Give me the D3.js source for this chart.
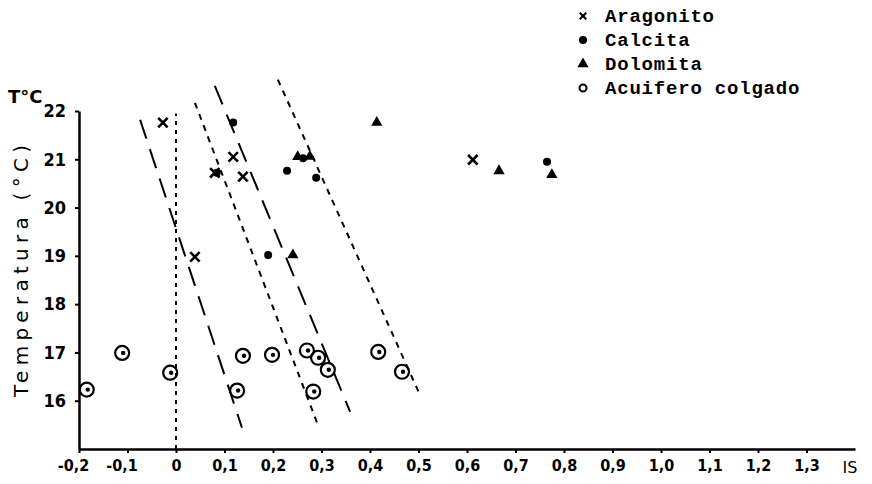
<!DOCTYPE html>
<html>
<head>
<meta charset="utf-8">
<script src="https://cdn.jsdelivr.net/npm/d3@7"></script>
<style>
  body { margin: 0; background: #fff; }
  svg { display: block; }
</style>
</head>
<body>
<svg id="chart" width="872" height="484"></svg>
<script>
// Datos: [IS, temperatura]
const aragonito = [[-0.027, 21.76], [0.039, 18.98], [0.08, 20.72], [0.118, 21.05], [0.138, 20.64], [0.612, 20.99]];
const calcita = [[0.118, 21.76], [0.084, 20.72], [0.229, 20.76], [0.289, 20.62], [0.19, 19.02], [0.262, 21.02], [0.765, 20.95]];
const dolomita = [[0.251, 21.05], [0.276, 21.06], [0.241, 19.02], [0.414, 21.76], [0.666, 20.76], [0.775, 20.68]];
const acuifero = [[-0.184, 16.23], [-0.111, 16.99], [-0.012, 16.58], [0.126, 16.21], [0.138, 16.93], [0.198, 16.95],
                  [0.27, 17.04], [0.293, 16.89], [0.313, 16.64], [0.283, 16.19], [0.417, 17.01], [0.466, 16.6]];

// Rectas trazadas a mano
const lineasLargas = [[[-0.074, 21.82], [0.136, 15.44]], [[0.080, 22.52], [0.359, 15.77]]];
const lineasCortas = [[[0.039, 22.17], [0.291, 15.54]], [[0.210, 22.65], [0.503, 16.12]]];
const lineaCero = [[0, 15.0], [0, 21.95]];

const xTicks = [-0.2, -0.1, 0, 0.1, 0.2, 0.3, 0.4, 0.5, 0.6, 0.7, 0.8, 0.9, 1.0, 1.1, 1.2, 1.3];
const yTicks = [16, 17, 18, 19, 20, 21, 22];
const leyenda = ["Aragonito", "Calcita", "Dolomita", "Acuifero colgado"];

const svg = d3.select("#chart");

const x = d3.scaleLinear().domain([-0.2, 1.4]).range([79, 855]);
const y = d3.scaleLinear().domain([15, 22]).range([449, 111]);

const fuenteNum = "'DejaVu Sans Condensed', 'Liberation Sans Narrow', sans-serif";
const formatoX = d => d === 0 ? "0" : d3.format(".1f")(d).replace(".", ",").replace("−", "-");

// Ejes
const xAxis = svg.append("g")
    .attr("transform", `translate(0, ${y(15)})`)
    .call(d3.axisBottom(x).tickValues(xTicks).tickSize(4).tickSizeOuter(0).tickPadding(7).tickFormat(formatoX));
xAxis.select(".domain").attr("stroke", "#000").attr("stroke-width", 2.5);
xAxis.selectAll("line").attr("stroke", "#000").attr("stroke-width", 2);
xAxis.selectAll("text")
    .attr("fill", "#000")
    .attr("dx", d => d < 0 ? -6 : 0)
    .style("font-family", fuenteNum)
    .style("font-weight", "bold")
    .style("font-size", "16px");

const yAxis = svg.append("g")
    .attr("transform", `translate(${x(-0.2)}, 0)`)
    .call(d3.axisLeft(y).tickValues(yTicks).tickSize(4).tickSizeOuter(0).tickPadding(9).tickFormat(d3.format("d")));
yAxis.select(".domain").attr("stroke", "#000").attr("stroke-width", 2.5);
yAxis.selectAll("line").attr("stroke", "#000").attr("stroke-width", 2);
yAxis.selectAll("text")
    .attr("fill", "#000")
    .style("font-family", fuenteNum)
    .style("font-weight", "bold")
    .style("font-size", "18px");

// Títulos de ejes
svg.append("text")
    .attr("x", 850).attr("y", 473)
    .attr("text-anchor", "middle")
    .style("font-family", "'DejaVu Sans', sans-serif")
    .style("font-size", "16px")
    .text("IS");

svg.append("text")
    .attr("x", 8).attr("y", 103)
    .style("font-family", "'DejaVu Sans', sans-serif")
    .style("font-weight", "bold")
    .style("font-size", "18px")
    .text("T°C");

svg.append("text")
    .attr("transform", "translate(28, 271) rotate(-90)")
    .attr("text-anchor", "middle")
    .attr("textLength", 252)
    .attr("lengthAdjust", "spacing")
    .style("font-family", "'DejaVu Sans', sans-serif")
    .style("font-size", "20px")
    .text("Temperatura (°C)");

// Rectas
const linea = d3.line().x(d => x(d[0])).y(d => y(d[1]));

svg.append("path").datum(lineaCero)
    .attr("d", linea).attr("fill", "none")
    .attr("stroke", "#000").attr("stroke-width", 2)
    .attr("stroke-dasharray", "4,5");

svg.selectAll(".larga").data(lineasLargas).enter().append("path")
    .attr("class", "larga")
    .attr("d", linea).attr("fill", "none")
    .attr("stroke", "#000").attr("stroke-width", 2)
    .attr("stroke-dasharray", "20,11");

svg.selectAll(".corta").data(lineasCortas).enter().append("path")
    .attr("class", "corta")
    .attr("d", linea).attr("fill", "none")
    .attr("stroke", "#000").attr("stroke-width", 2)
    .attr("stroke-dasharray", "6,6");

// Símbolos
const cruz = d3.symbol().type(d3.symbolX).size(60);
const triangulo = d3.symbol().type(d3.symbolTriangle).size(55);

svg.selectAll(".acu").data(acuifero).enter().append("g")
    .attr("class", "acu")
    .attr("transform", d => `translate(${x(d[0])}, ${y(d[1])})`)
    .each(function () {
        d3.select(this).append("circle").attr("r", 7)
            .attr("fill", "none").attr("stroke", "#000").attr("stroke-width", 2.2);
        d3.select(this).append("circle").attr("r", 2.2).attr("cx", 1).attr("fill", "#000");
    });

svg.selectAll(".ara").data(aragonito).enter().append("path")
    .attr("class", "ara")
    .attr("transform", d => `translate(${x(d[0])}, ${y(d[1])})`)
    .attr("d", cruz)
    .attr("stroke", "#000").attr("stroke-width", 2.6);

svg.selectAll(".cal").data(calcita).enter().append("circle")
    .attr("class", "cal")
    .attr("cx", d => x(d[0])).attr("cy", d => y(d[1]))
    .attr("r", 4).attr("fill", "#000");

svg.selectAll(".dol").data(dolomita).enter().append("path")
    .attr("class", "dol")
    .attr("transform", d => `translate(${x(d[0])}, ${y(d[1])})`)
    .attr("d", triangulo)
    .attr("fill", "#000");

// Leyenda
const fila = svg.selectAll(".leyenda").data(leyenda).enter().append("g")
    .attr("class", "leyenda")
    .attr("transform", (d, i) => `translate(583, ${16 + i * 24})`);

fila.append("text")
    .attr("x", 22).attr("y", 6)
    .style("font-family", "'Liberation Mono', 'DejaVu Sans Mono', monospace")
    .style("font-weight", "bold")
    .style("font-size", "19px")
    .style("letter-spacing", "0.8px")
    .text(d => d);

fila.filter((d, i) => i === 0).append("path")
    .attr("d", d3.symbol().type(d3.symbolX).size(30))
    .attr("stroke", "#000").attr("stroke-width", 2);
fila.filter((d, i) => i === 1).append("circle").attr("r", 4).attr("fill", "#000");
fila.filter((d, i) => i === 2).append("path").attr("d", triangulo).attr("fill", "#000");
fila.filter((d, i) => i === 3).append("circle").attr("r", 3.5)
    .attr("fill", "none").attr("stroke", "#000").attr("stroke-width", 2);
</script>
</body>
</html>
